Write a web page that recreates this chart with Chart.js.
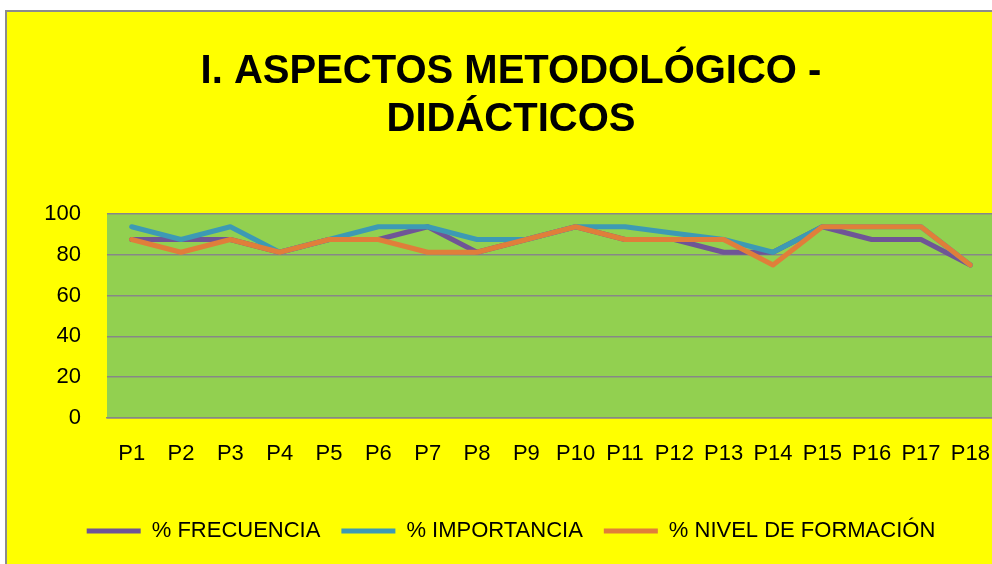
<!DOCTYPE html>
<html>
<head>
<meta charset="utf-8">
<script src="https://cdn.jsdelivr.net/npm/chart.js@4.4.1/dist/chart.umd.min.js"></script>
<style>
html, body { margin: 0; padding: 0; background: #ffffff; overflow: hidden; width: 992px; height: 564px; }
#frame { position: absolute; left: 5px; top: 10px; width: 985px; height: 552px; overflow: hidden; background: #ffff00; border-left: 2px solid #8c8c8c; border-top: 2px solid #8c8c8c; }
#c { position: absolute; left: 0; top: 0; }
</style>
</head>
<body>
<div id="frame"><canvas id="c" width="1000" height="552"></canvas></div>
<script>
const categories = ['P1','P2','P3','P4','P5','P6','P7','P8','P9','P10','P11','P12','P13','P14','P15','P16','P17','P18'];
const frecuencia  = [87.5, 87.5, 87.5, 81.25, 87.5, 87.5, 93.75, 81.25, 87.5, 93.75, 87.5, 87.5, 81.25, 81.25, 93.75, 87.5, 87.5, 75];
const importancia = [93.75, 87.5, 93.75, 81.25, 87.5, 93.75, 93.75, 87.5, 87.5, 93.75, 93.75, 90.6, 87.5, 81.25, 93.75, 93.75, 93.75, 75];
const nivel       = [87.5, 81.25, 87.5, 81.25, 87.5, 87.5, 81.25, 81.25, 87.5, 93.75, 87.5, 87.5, 87.5, 75, 93.75, 93.75, 93.75, 75];
const seriesNames = ['% FRECUENCIA', '% IMPORTANCIA', '% NIVEL DE FORMACIÓN'];
const yTicks = [0, 20, 40, 60, 80, 100];
const titleLines = ['I. ASPECTOS METODOLÓGICO -', 'DIDÁCTICOS'];

const bodyFont = '"Liberation Sans", Arial, sans-serif';

const plotBg = {
  id: 'plotBg',
  beforeDraw(chart) {
    const a = chart.chartArea, ctx = chart.ctx;
    ctx.save();
    ctx.fillStyle = '#92d050';
    ctx.fillRect(a.left, a.top, a.right - a.left, a.bottom - a.top);
    ctx.restore();
  }
};

function ds(label, data, color, order) {
  return {
    label, data, borderColor: color, backgroundColor: color,
    borderWidth: 5, pointRadius: 0, pointHoverRadius: 0, tension: 0,
    borderCapStyle: 'round', borderJoinStyle: 'round', order, fill: false
  };
}

new Chart(document.getElementById('c'), {
  type: 'line',
  data: {
    labels: categories,
    datasets: [
      ds(seriesNames[0], frecuencia, '#6f5596', 2),
      ds(seriesNames[1], importancia, '#3d9ab4', 1),
      ds(seriesNames[2], nivel, '#e07e3a', 0)
    ]
  },
  options: {
    responsive: false,
    animation: false,
    devicePixelRatio: 1,
    layout: { padding: { left: 20, right: 12, top: 0, bottom: 12 } },
    plugins: {
      title: {
        display: true,
        text: titleLines,
        color: '#000000',
        font: { family: bodyFont, size: 40, weight: 'bold', lineHeight: 1.2 },
        padding: { top: 36, bottom: 70 }
      },
      legend: {
        position: 'bottom',
        reverse: true,
        labels: {
          color: '#000000',
          font: { family: bodyFont, size: 22 },
          usePointStyle: true,
          pointStyle: 'line',
          pointStyleWidth: 54,
          padding: 21
        }
      },
      tooltip: { enabled: false }
    },
    scales: {
      x: {
        offset: true,
        grid: { display: false, drawTicks: false },
        border: { display: true, color: '#878787', width: 1.5 },
        ticks: { color: '#000000', font: { family: bodyFont, size: 22 }, padding: 23, maxRotation: 0, autoSkip: false },
        afterFit(scale) { scale.height = 81; scale.paddingRight = 0; scale.paddingLeft = 0; }
      },
      y: {
        min: 0, max: 100,
        afterBuildTicks(scale) { scale.ticks = yTicks.map(v => ({ value: v })); },
        grid: { color: '#878787', lineWidth: 1.5, drawTicks: false },
        border: { display: false },
        ticks: { color: '#000000', font: { family: bodyFont, size: 22 }, padding: 26 },
        afterFit(scale) { scale.width = 80; }
      }
    }
  },
  plugins: [plotBg]
});
</script>
</body>
</html>
